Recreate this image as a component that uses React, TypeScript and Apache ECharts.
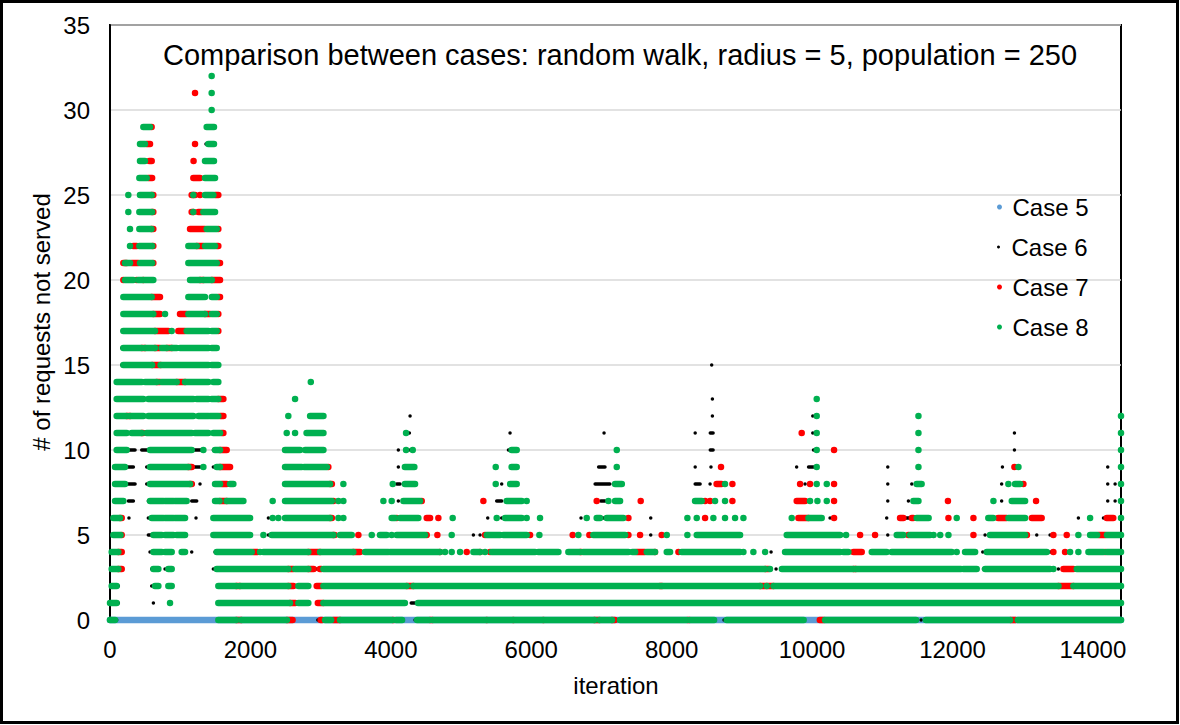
import React, { useEffect, useRef } from "react";
import * as echarts from "echarts";

const FONT = "'Liberation Sans', Arial, sans-serif";

const titleText = "Comparison between cases: random walk, radius = 5, population = 250";
const xAxisTitle = "iteration";
const yAxisTitle = "# of requests not served";
const seriesNames = ["Case 5", "Case 6", "Case 7", "Case 8"];
const seriesColors = ["#5B9BD5", "#000000", "#FF0000", "#00B050"];
const dotSizes = [6.5, 3.5, 6.5, 6.5];
const legendIconSizes = [5, 3, 5, 5];

const xMin = 0;
const xMax = 14400;
const xStep = 2000;
const yMin = 0;
const yMax = 35;
const yStep = 5;

// Each run: [requests not served, first iteration, last iteration]
const case5Runs = [[0, 0, 14400]];

const case6Runs = [
  [0, 95, 95], [0, 2960, 2960], [0, 4345, 4345], [0, 7241, 7241], [0, 8746, 8746], [0, 11553, 11553], [0, 12882, 12882],
  [1, 119, 119], [1, 618, 618], [1, 4290, 4340],
  [2, 119, 119], [2, 594, 594], [2, 2840, 2840],
  [3, 594, 594], [3, 784, 784], [3, 1472, 1472], [3, 2944, 2944], [3, 9487, 9487], [3, 12440, 12440], [3, 13508, 13508],
  [4, 570, 570], [4, 1164, 1164], [4, 1496, 1496], [4, 9416, 9416], [4, 11097, 11097], [4, 12431, 12431], [4, 13390, 13390],
  [5, 546, 594], [5, 2256, 2256], [5, 5176, 5176], [5, 5271, 5271], [5, 7702, 7702], [5, 11078, 11078], [5, 12464, 12464], [5, 13200, 13200], [5, 13390, 13390],
  [6, 270, 270], [6, 546, 546], [6, 1225, 1225], [6, 2256, 2256], [6, 5380, 5380], [6, 5579, 5579], [6, 6709, 6709], [6, 7027, 7027], [6, 7702, 7702], [6, 10256, 10256], [6, 11063, 11063], [6, 11330, 11400], [6, 13793, 13793], [6, 14150, 14150],
  [7, 262, 333], [7, 546, 546], [7, 1164, 1235], [7, 4107, 4107], [7, 5508, 5579], [7, 6990, 7051], [7, 11078, 11078], [7, 11372, 11372], [7, 12700, 12700], [7, 14211, 14211], [7, 14316, 14316],
  [8, 238, 357], [8, 523, 523], [8, 1187, 1187], [8, 1282, 1282], [8, 4084, 4131], [8, 5579, 5579], [8, 6910, 7120], [8, 8335, 8405], [8, 8547, 8547], [8, 9900, 9900], [8, 11078, 11078], [8, 11420, 11420], [8, 12700, 12700], [8, 14211, 14211], [8, 14316, 14316],
  [9, 238, 333], [9, 523, 523], [9, 1187, 1282], [9, 1472, 1472], [9, 4107, 4107], [9, 6960, 7050], [9, 8335, 8335], [9, 8560, 8560], [9, 9780, 9780], [9, 9950, 10020], [9, 11078, 11078], [9, 12711, 12711], [9, 14211, 14211],
  [10, 262, 357], [10, 452, 546], [10, 1187, 1306], [10, 1472, 1472], [10, 4107, 4107], [10, 4274, 4274], [10, 5675, 5675], [10, 8550, 8590], [10, 10020, 10020], [10, 12882, 12882],
  [11, 262, 309], [11, 1425, 1425], [11, 4264, 4264], [11, 5698, 5698], [11, 7037, 7037], [11, 8335, 8335], [11, 8550, 8590], [11, 10010, 10010], [11, 12882, 12882],
  [12, 499, 499], [12, 1211, 1211], [12, 4274, 4274], [12, 8580, 8580], [12, 10010, 10010],
  [13, 499, 499], [13, 1211, 1211], [13, 8580, 8580],
  [14, 1425, 1425],
  [15, 167, 167], [15, 1425, 1425], [15, 8570, 8570],
  [16, 167, 167], [16, 974, 974],
  [17, 175, 175], [17, 1425, 1425],
  [28, 1367, 1367],
];

const case7Runs = [
  [0, 1800, 1870], [0, 2520, 2600], [0, 3000, 3020], [0, 3176, 3276], [0, 4030, 4040], [0, 4560, 4590], [0, 5366, 5366], [0, 5745, 5745], [0, 6173, 6173], [0, 6900, 6970], [0, 7150, 7190], [0, 8230, 8250], [0, 10110, 10170], [0, 12830, 12900],
  [1, 2564, 2640], [1, 2960, 3035],
  [2, 1800, 1850], [2, 2540, 2612], [2, 2944, 3016], [2, 4226, 4321], [2, 7835, 7860], [2, 9260, 9450], [2, 13510, 13722],
  [3, 119, 167], [3, 2540, 2612], [3, 2825, 2900], [3, 2990, 3010], [3, 9330, 9380], [3, 10590, 10620], [3, 13580, 13722],
  [4, 119, 167], [4, 2040, 2100], [4, 2825, 2992], [4, 3466, 3561], [4, 4700, 4700], [4, 5081, 5081], [4, 5271, 5271], [4, 5413, 5413], [4, 6700, 6715], [4, 7500, 7620], [4, 7763, 7763], [4, 8096, 8096], [4, 10589, 10707], [4, 13437, 13437], [4, 13603, 13603], [4, 14173, 14173],
  [5, 167, 167], [5, 3182, 3200], [5, 3538, 3538], [5, 4511, 4511], [5, 4663, 4663], [5, 5342, 5342], [5, 5983, 5983], [5, 6590, 6590], [5, 6828, 6828], [5, 7384, 7384], [5, 7550, 7550], [5, 7858, 7858], [5, 10684, 10684], [5, 10897, 10897], [5, 11372, 11372], [5, 12298, 12298], [5, 13060, 13060], [5, 13437, 13437], [5, 13627, 13627], [5, 14080, 14180],
  [6, 143, 167], [6, 3134, 3160], [6, 4084, 4084], [6, 4511, 4559], [6, 4677, 4677], [6, 7384, 7384], [6, 8476, 8476], [6, 9805, 9948], [6, 10313, 10313], [6, 11253, 11300], [6, 11420, 11440], [6, 11942, 11942], [6, 12298, 12298], [6, 12650, 12770], [6, 13130, 13270], [6, 14197, 14290],
  [7, 1567, 1662], [7, 3182, 3182], [7, 4440, 4440], [7, 5318, 5318], [7, 6932, 6932], [7, 7559, 7559], [7, 8476, 8476], [7, 8547, 8547], [7, 8865, 8865], [7, 9781, 9900], [7, 10313, 10313], [7, 11935, 11935], [7, 13190, 13190],
  [8, 1140, 1164], [8, 1590, 1662], [8, 3134, 3160], [8, 8640, 8710], [8, 8865, 8865], [8, 9829, 9829], [8, 9971, 9971], [8, 10313, 10313], [8, 13010, 13010],
  [9, 1116, 1164], [9, 1567, 1710], [9, 3110, 3110], [9, 8703, 8703], [9, 12882, 12882],
  [10, 1567, 1662], [10, 10313, 10313],
  [11, 452, 470], [11, 1590, 1615], [11, 9852, 9852],
  [12, 238, 285], [12, 1567, 1615],
  [13, 1543, 1615],
  [14, 665, 713], [14, 950, 1069],
  [15, 600, 720],
  [16, 452, 499], [16, 641, 713], [16, 808, 879],
  [17, 641, 830], [17, 973, 1069], [17, 1543, 1543],
  [18, 617, 712], [18, 997, 1092], [18, 1353, 1425], [18, 1543, 1543],
  [19, 594, 712], [19, 1543, 1567],
  [20, 190, 190], [20, 380, 380], [20, 475, 475], [20, 1282, 1330], [20, 1450, 1567],
  [21, 190, 237], [21, 309, 403], [21, 617, 617], [21, 1540, 1567],
  [22, 332, 380], [22, 610, 617], [22, 1235, 1330], [22, 1520, 1543],
  [23, 590, 617], [23, 1140, 1353], [23, 1543, 1543],
  [24, 600, 617], [24, 1163, 1187], [24, 1258, 1306],
  [25, 594, 617], [25, 1163, 1211], [25, 1282, 1282], [25, 1496, 1543],
  [26, 545, 600], [26, 1187, 1282],
  [27, 560, 594], [27, 1190, 1190],
  [28, 520, 570], [28, 1211, 1211],
  [29, 593, 593],
  [31, 1211, 1211],
];

const case8Runs = [
  [0, 0, 72], [0, 1543, 1800], [0, 1870, 2520], [0, 3063, 3150], [0, 3276, 4020], [0, 4075, 4160], [0, 4373, 4550], [0, 4600, 6900], [0, 6975, 7150], [0, 7265, 8215], [0, 8262, 8604], [0, 8784, 9880], [0, 10185, 11480], [0, 11620, 12820], [0, 12930, 14400],
  [1, 0, 95], [1, 855, 855], [1, 1543, 2564], [1, 2683, 2825], [1, 3040, 4200], [1, 4387, 14400],
  [2, 24, 95], [2, 641, 689], [2, 831, 879], [2, 1543, 1800], [2, 1850, 2540], [2, 2683, 2825], [2, 3040, 4226], [2, 4321, 7835], [2, 7860, 9260], [2, 9354, 9354], [2, 9450, 13510], [2, 13722, 14400],
  [3, 24, 119], [3, 618, 689], [3, 831, 879], [3, 1520, 2540], [3, 2636, 2825], [3, 3040, 9330], [3, 9400, 9400], [3, 9570, 10590], [3, 10620, 12120], [3, 12155, 12345], [3, 12465, 13390], [3, 13437, 13437], [3, 13770, 14400],
  [4, 24, 119], [4, 618, 736], [4, 784, 879], [4, 1021, 1069], [4, 1520, 2018], [4, 2137, 2137], [4, 2185, 2825], [4, 2992, 3466], [4, 3633, 3965], [4, 3990, 4700], [4, 4772, 4772], [4, 4867, 4867], [4, 4986, 4986], [4, 5176, 5271], [4, 5342, 5342], [4, 5437, 6054], [4, 6100, 6387], [4, 6529, 6695], [4, 6742, 7384], [4, 7440, 7480], [4, 7645, 7763], [4, 7930, 7977], [4, 8143, 8974], [4, 9022, 9022], [4, 9164, 9164], [4, 9330, 9330], [4, 9615, 10399], [4, 10446, 10517], [4, 10850, 11063], [4, 11134, 11989], [4, 12060, 12060], [4, 12179, 12322], [4, 12488, 13342], [4, 13675, 13675], [4, 13793, 13793], [4, 13936, 14149], [4, 14197, 14400],
  [5, 48, 150], [5, 618, 736], [5, 784, 903], [5, 950, 1069], [5, 1472, 1995], [5, 2185, 2185], [5, 2303, 3182], [5, 3276, 3443], [5, 3728, 3728], [5, 3846, 3941], [5, 4012, 4012], [5, 4084, 4487], [5, 4867, 4867], [5, 5366, 5555], [5, 5603, 5935], [5, 6116, 6116], [5, 6671, 6671], [5, 6885, 7336], [5, 7930, 7930], [5, 8224, 8224], [5, 8357, 8974], [5, 9639, 10399], [5, 10484, 10484], [5, 11206, 11300], [5, 11396, 11680], [5, 11730, 11730], [5, 11825, 11825], [5, 11942, 11942], [5, 12535, 13034], [5, 13793, 13793], [5, 13960, 14060], [5, 14200, 14400],
  [6, 48, 143], [6, 594, 760], [6, 784, 903], [6, 926, 1069], [6, 1472, 1995], [6, 2317, 2317], [6, 2398, 2398], [6, 2493, 3134], [6, 3253, 3253], [6, 3324, 3324], [6, 4012, 4060], [6, 4131, 4392], [6, 4881, 4881], [6, 5508, 5508], [6, 5627, 5864], [6, 5935, 5935], [6, 6125, 6125], [6, 6790, 6790], [6, 6932, 6980], [6, 7075, 7312], [6, 8224, 8224], [6, 8357, 8357], [6, 8594, 8594], [6, 8760, 8760], [6, 8903, 8903], [6, 9022, 9022], [6, 9710, 9710], [6, 9948, 10137], [6, 11490, 11660], [6, 12060, 12060], [6, 12510, 12580], [6, 12797, 13034], [6, 13960, 13960], [6, 14400, 14400],
  [7, 72, 190], [7, 570, 760], [7, 784, 903], [7, 926, 1092], [7, 1496, 1560], [7, 1662, 1900], [7, 2317, 2317], [7, 2493, 3158], [7, 3253, 3253], [7, 3324, 3324], [7, 3894, 3894], [7, 4012, 4012], [7, 4179, 4416], [7, 5650, 5864], [7, 5935, 5935], [7, 7099, 7099], [7, 7194, 7265], [7, 8333, 8428], [7, 8618, 8618], [7, 8760, 8760], [7, 9971, 9971], [7, 10076, 10076], [7, 10209, 10209], [7, 11443, 11515], [7, 12583, 12583], [7, 12844, 13034], [7, 14400, 14400],
  [8, 72, 214], [8, 570, 1140], [8, 1496, 1567], [8, 1710, 1757], [8, 2493, 3134], [8, 3324, 3324], [8, 4027, 4027], [8, 4200, 4345], [8, 5494, 5494], [8, 5700, 5793], [8, 7194, 7290], [8, 8760, 8760], [8, 10066, 10066], [8, 10209, 10209], [8, 11490, 11560], [8, 12796, 12796], [8, 12891, 12963], [8, 14400, 14400],
  [9, 72, 214], [9, 570, 1116], [9, 1330, 1330], [9, 1520, 1567], [9, 2493, 2730], [9, 2765, 3088], [9, 4200, 4335], [9, 5494, 5494], [9, 5720, 5793], [9, 7218, 7218], [9, 10066, 10066], [9, 11515, 11515], [9, 12939, 12939], [9, 14400, 14400],
  [10, 95, 238], [10, 570, 1164], [10, 1330, 1330], [10, 1496, 1567], [10, 2493, 2707], [10, 2780, 3040], [10, 4217, 4217], [10, 4312, 4312], [10, 5720, 5793], [10, 7218, 7218], [10, 10066, 10066], [10, 11515, 11515], [10, 14400, 14400],
  [11, 95, 238], [11, 309, 452], [11, 523, 1164], [11, 1211, 1401], [11, 1472, 1567], [11, 2517, 2517], [11, 2636, 2636], [11, 2800, 3040], [11, 4217, 4217], [11, 10066, 10066], [11, 11515, 11515], [11, 14400, 14400],
  [12, 95, 238], [12, 285, 475], [12, 546, 1187], [12, 1259, 1401], [12, 1425, 1543], [12, 2540, 2540], [12, 2850, 3040], [12, 10066, 10066], [12, 11515, 11515], [12, 14400, 14400],
  [13, 95, 475], [13, 546, 1187], [13, 1235, 1401], [13, 1449, 1543], [13, 2636, 2636], [13, 10066, 10066],
  [14, 95, 452], [14, 499, 665], [14, 736, 950], [14, 1069, 1401], [14, 1472, 1543], [14, 2860, 2860],
  [15, 190, 600], [15, 720, 1401], [15, 1449, 1543],
  [16, 190, 452], [16, 499, 641], [16, 736, 808], [16, 879, 950], [16, 998, 1401], [16, 1449, 1520],
  [17, 190, 641], [17, 879, 879], [17, 1092, 1401], [17, 1450, 1520],
  [18, 190, 617], [18, 784, 784], [18, 1116, 1353], [18, 1450, 1520],
  [19, 190, 594], [19, 1116, 1330], [19, 1353, 1353], [19, 1450, 1520],
  [20, 214, 332], [20, 403, 475], [20, 498, 617], [20, 1140, 1282], [20, 1330, 1450],
  [21, 214, 285], [21, 427, 600], [21, 1116, 1520],
  [22, 285, 285], [22, 418, 600], [22, 1116, 1235], [22, 1353, 1496],
  [23, 285, 285], [23, 418, 590], [23, 1377, 1520],
  [24, 261, 261], [24, 418, 600], [24, 1187, 1187], [24, 1330, 1496],
  [25, 261, 261], [25, 427, 594], [25, 1187, 1187], [25, 1353, 1472],
  [26, 418, 522], [26, 1353, 1496],
  [27, 427, 498], [27, 1353, 1481],
  [28, 427, 498], [28, 1400, 1481],
  [29, 475, 570], [29, 1377, 1481],
  [30, 1448, 1448],
  [31, 1448, 1448],
  [32, 1448, 1448],
];

const allRuns = [case5Runs, case6Runs, case7Runs, case8Runs];
const legendCenters = [209, 249, 289, 329];

function makeRenderItem(color: string, size: number) {
  return (_params: any, api: any) => {
    const y = api.value(0);
    const x0 = api.value(1);
    const x1 = api.value(2);
    const p0 = api.coord([x0, y]);
    const p1 = api.coord([x1, y]);
    return {
      type: "rect",
      shape: {
        x: p0[0] - size / 2,
        y: p0[1] - size / 2,
        width: p1[0] - p0[0] + size,
        height: size,
        r: size / 2,
      },
      style: { fill: color },
    };
  };
}

export default function App() {
  const ref = useRef<HTMLDivElement>(null);

  useEffect(() => {
    if (!ref.current) return;
    const chart = echarts.init(ref.current, undefined, { renderer: "svg" });
    const textBase = { fontFamily: FONT, fontSize: 24, color: "#000" };
    chart.setOption({
      animation: false,
      backgroundColor: "#fff",
      grid: {
        left: 110,
        right: 59,
        top: 25,
        bottom: 105,
        show: true,
        borderColor: "#000",
        borderWidth: 2,
        backgroundColor: "transparent",
      },
      xAxis: {
        type: "value",
        min: xMin,
        max: xMax,
        interval: xStep,
        axisLine: { show: true, lineStyle: { color: "#000", width: 2 } },
        axisTick: { show: false },
        splitLine: { show: false },
        axisLabel: { ...textBase, margin: 17, showMaxLabel: false, formatter: (v: number) => String(v) },
      },
      yAxis: {
        type: "value",
        min: yMin,
        max: yMax,
        interval: yStep,
        axisLine: { show: true, lineStyle: { color: "#000", width: 2 } },
        axisTick: { show: false },
        splitLine: { show: true, lineStyle: { color: "#D9D9D9", width: 1.5 } },
        axisLabel: { ...textBase, margin: 20 },
      },
      legend: seriesNames.map((n, i) => ({
        data: [{ name: n, icon: "circle" }],
        left: 997,
        top: legendCenters[i] - 14,
        orient: "vertical",
        itemWidth: 16,
        itemHeight: legendIconSizes[i],
        padding: 0,
        selectedMode: false,
        textStyle: { ...textBase },
      })),
      graphic: [
        {
          type: "rect",
          silent: true,
          shape: { x: 1.5, y: 1.5, width: 1176, height: 721 },
          style: { fill: "none", stroke: "#000", lineWidth: 3 },
        },
        {
          type: "text",
          x: 620,
          y: 55,
          style: {
            text: titleText,
            font: `29px ${FONT}`,
            fill: "#000",
            align: "center",
            verticalAlign: "middle",
            textAlign: "center",
            textVerticalAlign: "middle",
          },
        },
        {
          type: "text",
          x: 616,
          y: 685,
          style: {
            text: xAxisTitle,
            font: `24px ${FONT}`,
            fill: "#000",
            align: "center",
            verticalAlign: "middle",
            textAlign: "center",
            textVerticalAlign: "middle",
          },
        },
        {
          type: "text",
          x: 41,
          y: 322,
          rotation: Math.PI / 2,
          style: {
            text: yAxisTitle,
            font: `24px ${FONT}`,
            fill: "#000",
            align: "center",
            verticalAlign: "middle",
            textAlign: "center",
            textVerticalAlign: "middle",
          },
        },
      ],
      series: allRuns.map((runs, i) => ({
        type: "custom",
        name: seriesNames[i],
        data: runs,
        encode: { x: [1, 2], y: 0 },
        itemStyle: { color: seriesColors[i] },
        renderItem: makeRenderItem(seriesColors[i], dotSizes[i]),
        clip: false,
        z: 3 + i,
      })),
    });
    return () => chart.dispose();
  }, []);

  return (
    <div
      ref={ref}
      style={{ position: "fixed", left: 0, top: 0, width: 1180, height: 725, background: "#fff" }}
    />
  );
}
